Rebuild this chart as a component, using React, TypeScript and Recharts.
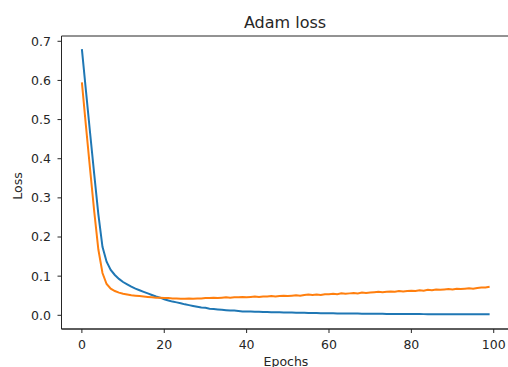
import { LineChart, Line, XAxis, YAxis, ReferenceArea } from 'recharts';

// blue curve (training loss per epoch)
const trainLoss = [
  0.68, 0.572, 0.465, 0.36, 0.258, 0.175, 0.137, 0.116, 0.103, 0.093,
  0.085, 0.079, 0.073, 0.068, 0.064, 0.06, 0.056, 0.052, 0.048, 0.045,
  0.041, 0.038, 0.035, 0.033, 0.031, 0.028, 0.026, 0.024, 0.022, 0.02,
  0.019, 0.017, 0.016, 0.015, 0.014, 0.013, 0.012, 0.012, 0.011, 0.01,
  0.01, 0.0095, 0.009, 0.0088, 0.0085, 0.0082, 0.008, 0.0078, 0.0076, 0.0074,
  0.0072, 0.007, 0.0067, 0.0065, 0.0063, 0.0061, 0.0059, 0.0057, 0.0055, 0.0053,
  0.0051, 0.005, 0.0048, 0.0047, 0.0046, 0.0045, 0.0044, 0.0043, 0.0042, 0.0041,
  0.004, 0.0039, 0.0038, 0.0037, 0.0036, 0.0035, 0.0035, 0.0034, 0.0033, 0.0033,
  0.0032, 0.0031, 0.0031, 0.003, 0.003, 0.0029, 0.0029, 0.0028, 0.0028, 0.0027,
  0.0027, 0.0027, 0.0026, 0.0026, 0.0026, 0.0025, 0.0025, 0.0025, 0.0024, 0.0024,
];

// orange curve (validation loss per epoch)
const valLoss = [
  0.595, 0.482, 0.372, 0.265, 0.168, 0.108, 0.08, 0.068, 0.062, 0.058,
  0.055, 0.053, 0.051, 0.05, 0.049, 0.048, 0.047, 0.046, 0.045, 0.045,
  0.044, 0.044, 0.043, 0.043, 0.042, 0.042, 0.043, 0.042, 0.043, 0.043,
  0.044, 0.044, 0.045, 0.044, 0.045, 0.046, 0.045, 0.046, 0.046, 0.047,
  0.046, 0.047, 0.048, 0.047, 0.048, 0.048, 0.049, 0.048, 0.049, 0.05,
  0.049, 0.05, 0.051, 0.05, 0.052, 0.053, 0.052, 0.053, 0.052, 0.054,
  0.054, 0.055, 0.054, 0.056, 0.055, 0.056, 0.057, 0.056, 0.058, 0.057,
  0.058, 0.059, 0.06, 0.059, 0.06, 0.061, 0.06, 0.062, 0.061, 0.062,
  0.063, 0.062, 0.064, 0.063, 0.065, 0.064, 0.066, 0.065, 0.066, 0.067,
  0.066, 0.068, 0.067, 0.068, 0.069, 0.068, 0.07, 0.071, 0.071, 0.073,
];

const xTicks = [0, 20, 40, 60, 80, 100];
const yTicks = [0, 0.1, 0.2, 0.3, 0.4, 0.5, 0.6, 0.7];

const X_DOMAIN: [number, number] = [-4.95, 103.95];
const Y_DOMAIN: [number, number] = [-0.035, 0.7135];

const FONT = '"DejaVu Sans", sans-serif';
const INK = '#262626';

const data = trainLoss.map((v, i) => ({ epoch: i, train: v, val: valLoss[i] }));

export default function App() {
  return (
    <div
      style={{
        position: 'absolute',
        left: 0,
        top: 0,
        width: 508,
        height: 367,
        overflow: 'hidden',
        background: '#fff',
        fontFamily: FONT,
      }}
    >
      <LineChart
        width={510}
        height={367}
        data={data}
        margin={{ top: 36, right: 0, bottom: 0, left: 0 }}
      >
        <ReferenceArea
          x1={X_DOMAIN[0]}
          x2={X_DOMAIN[1]}
          y1={Y_DOMAIN[0]}
          y2={Y_DOMAIN[1]}
          fill="none"
          stroke={INK}
          strokeWidth={1}
          ifOverflow="visible"
        />
        <XAxis
          dataKey="epoch"
          type="number"
          domain={X_DOMAIN}
          ticks={xTicks}
          height={38}
          allowDataOverflow
          tickSize={4}
          tickMargin={7}
          axisLine={{ stroke: INK }}
          tickLine={{ stroke: INK }}
          tick={{ fill: INK, fontSize: 12.5, fontFamily: FONT }}
        />
        <YAxis
          type="number"
          domain={Y_DOMAIN}
          ticks={yTicks}
          width={61.5}
          allowDataOverflow
          tickSize={4}
          tickMargin={6.5}
          tickFormatter={(v: number) => v.toFixed(1)}
          axisLine={{ stroke: INK }}
          tickLine={{ stroke: INK }}
          tick={{ fill: INK, fontSize: 12.5, fontFamily: FONT }}
        />
        <Line
          dataKey="train"
          stroke="#1f77b4"
          strokeWidth={2}
          dot={false}
          isAnimationActive={false}
        />
        <Line
          dataKey="val"
          stroke="#ff7f0e"
          strokeWidth={2}
          dot={false}
          isAnimationActive={false}
        />
      </LineChart>
      <div
        style={{
          position: 'absolute',
          left: 185,
          width: 200,
          top: 15,
          textAlign: 'center',
          fontSize: 16,
          color: INK,
          lineHeight: '16px',
        }}
      >
        Adam loss
      </div>
      <div
        style={{
          position: 'absolute',
          left: 236,
          width: 100,
          top: 354.5,
          textAlign: 'center',
          fontSize: 12.5,
          color: INK,
          lineHeight: '14px',
        }}
      >
        Epochs
      </div>
      <div
        style={{
          position: 'absolute',
          left: -32.5,
          width: 100,
          top: 179,
          textAlign: 'center',
          fontSize: 12.5,
          color: INK,
          lineHeight: '14px',
          transform: 'rotate(-90deg)',
        }}
      >
        Loss
      </div>
    </div>
  );
}
